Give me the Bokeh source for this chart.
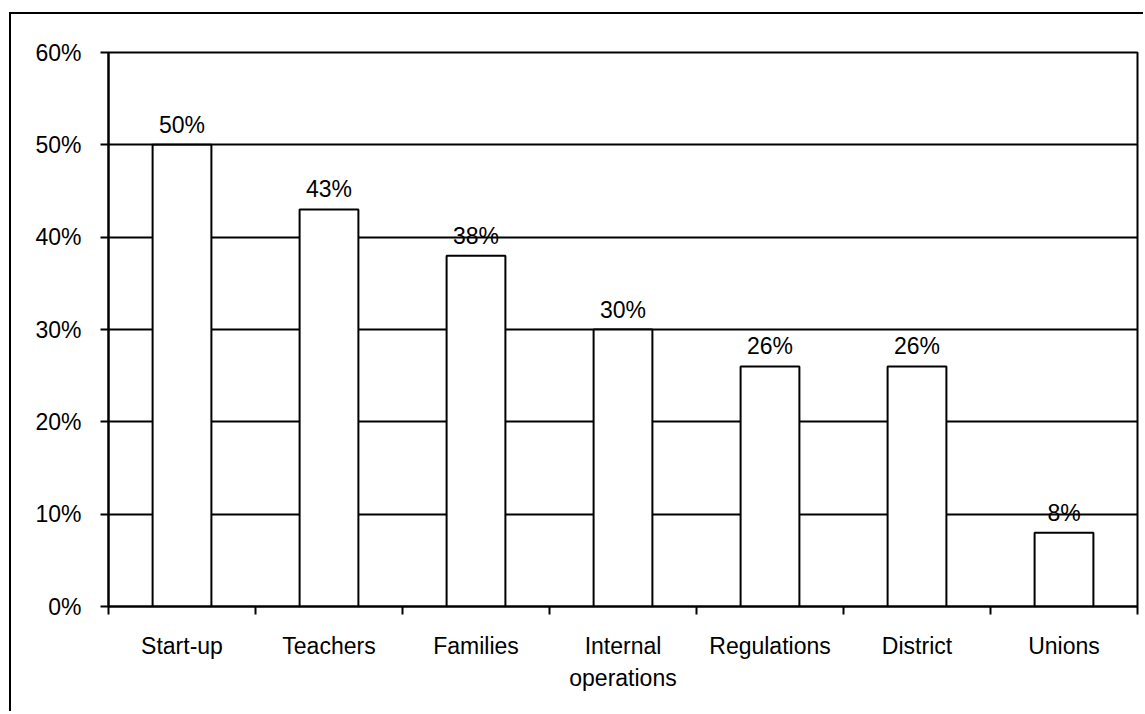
from bokeh.plotting import figure
from bokeh.models import (ColumnDataSource, Range1d, FixedTicker, NumeralTickFormatter)
from bokeh.embed import file_html
from bokeh.resources import INLINE

categories = ["Start-up", "Teachers", "Families", "Internal\noperations", "Regulations", "District", "Unions"]
values = [0.50, 0.43, 0.38, 0.30, 0.26, 0.26, 0.08]
labels = ["50%", "43%", "38%", "30%", "26%", "26%", "8%"]
y_ticks = [0.0, 0.1, 0.2, 0.3, 0.4, 0.5, 0.6]

n = len(categories)
slot_centers = [i + 0.5 for i in range(n)]
slot_edges = list(range(n + 1))

src = ColumnDataSource(dict(x=slot_centers, cat=categories, val=values, lab=labels))

font = "Liberation Sans"
fs = "23px"

p = figure(x_range=Range1d(0, n), y_range=Range1d(0, 0.6),
           width=1134, height=699, output_backend="svg", toolbar_location=None,
           min_border_left=97, min_border_right=8, min_border_top=38, min_border_bottom=107)
p.margin = (12, 0, 0, 9)
p.styles = {"border-left": "2px solid black", "border-top": "2px solid black"}

p.vbar(x="x", top="val", width=0.4, source=src, fill_color="white",
       line_color="black", line_width=2)
p.text(x="x", y="val", text="lab", source=src, text_align="center",
       text_baseline="alphabetic", y_offset=-20, text_font_size=fs,
       text_font={"value": font}, text_color="black")

xa = p.xaxis[0]
xa.ticker = FixedTicker(ticks=slot_centers, minor_ticks=slot_edges)
xa.major_label_overrides = {c: lab for c, lab in zip(slot_centers, categories)}
xa.major_tick_line_color = None
xa.major_tick_in = 0
xa.major_tick_out = 8
xa.minor_tick_line_color = "black"
xa.minor_tick_line_width = 2
xa.minor_tick_in = 0
xa.minor_tick_out = 8
xa.major_label_standoff = 18
xa.major_label_text_line_height = 1.25

ya = p.yaxis[0]
ya.ticker = FixedTicker(ticks=y_ticks)
ya.formatter = NumeralTickFormatter(format="0%")
ya.minor_tick_line_color = None
ya.major_tick_in = 0
ya.major_tick_out = 8
ya.major_label_standoff = 19
ya.major_tick_line_color = "black"
ya.major_tick_line_width = 2

for ax in (xa, ya):
    ax.axis_line_color = "black"
    ax.axis_line_width = 2
    ax.major_label_text_font = font
    ax.major_label_text_font_size = fs
    ax.major_label_text_color = "black"

p.xgrid.grid_line_color = None
p.ygrid.grid_line_color = "black"
p.ygrid.grid_line_width = 2
p.ygrid.ticker = FixedTicker(ticks=y_ticks)

p.outline_line_color = "black"
p.outline_line_width = 2
p.background_fill_color = "white"
p.border_fill_color = "white"

open("out.html", "w").write(file_html(p, INLINE))
